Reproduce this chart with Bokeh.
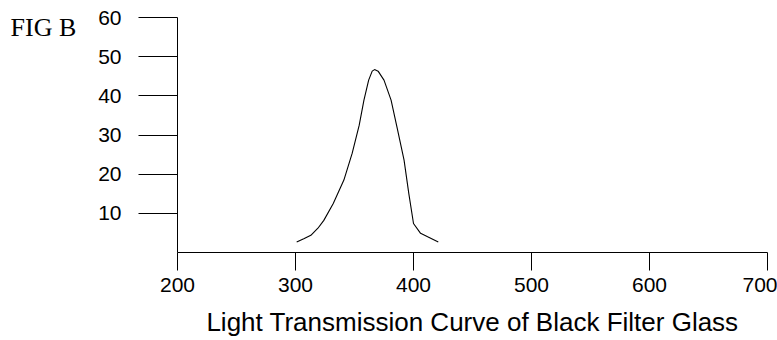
from bokeh.plotting import figure
from bokeh.models import FixedTicker, Range1d, Label
from bokeh.embed import file_html
from bokeh.resources import INLINE

# Data
wavelength = [301, 307, 313, 319, 324, 332, 341, 348, 354, 358, 362, 365, 367,
              370, 375, 381, 386, 392, 396, 400, 406, 412, 421]
transmission = [2.7, 3.5, 4.4, 6.2, 8.2, 12.5, 18.5, 25.3, 32.5, 38.9, 44.0, 46.3, 46.7,
                46.3, 44.0, 38.9, 32.0, 23.6, 15.1, 7.4, 4.9, 4.0, 2.7]
x_ticks = [200, 300, 400, 500, 600, 700]
y_ticks = [10, 20, 30, 40, 50, 60]
title_text = "Light Transmission Curve of Black Filter Glass"
fig_label = "FIG B"

p = figure(frame_width=590, frame_height=235,
           min_border_left=177, min_border_right=10,
           min_border_top=17, min_border_bottom=88,
           x_range=Range1d(200, 700), y_range=Range1d(0, 60),
           output_backend="svg", toolbar_location=None)
p.outline_line_color = None
p.xgrid.visible = False
p.ygrid.visible = False
p.background_fill_color = "white"
p.border_fill_color = "white"

p.line(wavelength, transmission, line_color="black", line_width=1.1)

xa = p.xaxis[0]
xa.ticker = FixedTicker(ticks=x_ticks)
xa.major_tick_out = 18
xa.major_tick_in = 0
xa.minor_tick_out = 0
xa.minor_tick_in = 0
xa.axis_line_color = "black"
xa.major_tick_line_color = "black"
xa.major_label_text_font = "Liberation Sans"
xa.major_label_text_font_size = "21px"
xa.major_label_text_color = "black"
xa.major_label_standoff = 7
xa.axis_label = title_text
xa.axis_label_text_font = "Liberation Sans"
xa.axis_label_text_font_size = "26px"
xa.axis_label_text_font_style = "normal"
xa.axis_label_text_color = "black"
xa.axis_label_standoff = 12

ya = p.yaxis[0]
ya.ticker = FixedTicker(ticks=y_ticks)
ya.major_tick_out = 39
ya.major_tick_in = 0
ya.minor_tick_out = 0
ya.minor_tick_in = 0
ya.axis_line_color = "black"
ya.major_tick_line_color = "black"
ya.major_label_text_font = "Liberation Sans"
ya.major_label_text_font_size = "21px"
ya.major_label_text_color = "black"
ya.major_label_standoff = 17

lab = Label(x=58.5, y=57.45, text=fig_label, text_font="Liberation Serif",
            text_font_size="26px", text_color="black", text_baseline="alphabetic",
            text_align="left")
p.add_layout(lab, "left")

open("out.html", "w").write(file_html(p, INLINE))
